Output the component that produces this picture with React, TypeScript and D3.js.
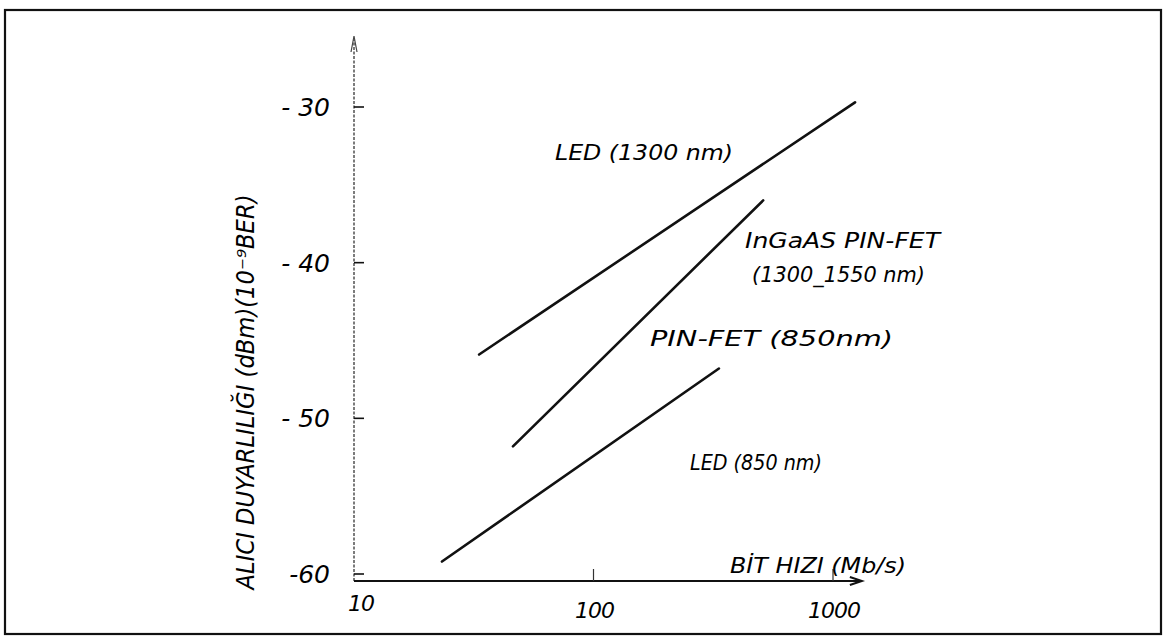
import { useEffect, useRef } from "react";
import * as d3 from "d3";

// bit rate (Mb/s) vs receiver sensitivity (dBm)
const led1300 = [
  { rate: 33.3, sens: -45.9 },
  { rate: 1236, sens: -29.7 },
];
const ingaas = [
  { rate: 46.1, sens: -51.8 },
  { rate: 511, sens: -36.0 },
];
const led850 = [
  { rate: 23.3, sens: -59.2 },
  { rate: 334, sens: -46.8 },
];
const xTicks = [10, 100, 1000];
const yTicks = [-30, -40, -50, -60];

const W = 1168;
const H = 643;
const FONT = "'DejaVu Sans', sans-serif";

export default function App() {
  const ref = useRef<SVGSVGElement>(null);

  useEffect(() => {
    const svg = d3.select(ref.current);
    svg.selectAll("*").remove();

    const x = d3.scaleLog().domain([10, 1000]).range([354, 833]);
    const y = d3.scaleLinear().domain([-60, -30]).range([574, 107]);
    const axisY = 581;

    // hand-drawn frame
    svg
      .append("rect")
      .attr("x", 5)
      .attr("y", 10)
      .attr("width", 1156)
      .attr("height", 624)
      .attr("fill", "none")
      .attr("stroke", "#111")
      .attr("stroke-width", 2.2);

    // y axis (dotted look) with arrow
    svg
      .append("line")
      .attr("x1", x(10))
      .attr("x2", x(10))
      .attr("y1", axisY)
      .attr("y2", 40)
      .attr("stroke", "#444")
      .attr("stroke-width", 1.4)
      .attr("stroke-dasharray", "3,1.5");
    svg
      .append("path")
      .attr("d", `M${x(10) - 3},52 L${x(10)},36 L${x(10) + 3},52`)
      .attr("fill", "none")
      .attr("stroke", "#444")
      .attr("stroke-width", 1.2);

    // x axis with arrow
    const xEnd = x(1320);
    svg
      .append("line")
      .attr("x1", x(10))
      .attr("x2", xEnd)
      .attr("y1", axisY)
      .attr("y2", axisY)
      .attr("stroke", "#111")
      .attr("stroke-width", 2.2);
    svg
      .append("path")
      .attr("d", `M${xEnd - 12},${axisY - 4} L${xEnd},${axisY} L${xEnd - 12},${axisY + 4}`)
      .attr("fill", "none")
      .attr("stroke", "#111")
      .attr("stroke-width", 2);

    // y ticks
    svg
      .selectAll(".yt")
      .data(yTicks)
      .enter()
      .append("line")
      .attr("x1", x(10))
      .attr("x2", x(10) + 10)
      .attr("y1", (d) => y(d))
      .attr("y2", (d) => y(d))
      .attr("stroke", "#111")
      .attr("stroke-width", 1.6);
    svg
      .selectAll(".yl")
      .data(yTicks)
      .enter()
      .append("text")
      .attr("x", 330)
      .attr("y", (d) => y(d) + 9)
      .attr("text-anchor", "end")
      .attr("font-family", FONT)
      .attr("font-style", "italic")
      .attr("font-weight", 300)
      .attr("font-size", 25)
      .text((d) => (d === -60 ? "-" : "- ") + Math.abs(d));

    // x ticks
    svg
      .selectAll(".xt")
      .data(xTicks.slice(1))
      .enter()
      .append("line")
      .attr("x1", (d) => x(d))
      .attr("x2", (d) => x(d))
      .attr("y1", axisY)
      .attr("y2", axisY - 12)
      .attr("stroke", "#333")
      .attr("stroke-width", 1.2);
    svg
      .selectAll(".xl")
      .data(xTicks)
      .enter()
      .append("text")
      .attr("x", (d) => (d === 10 ? x(d) + 7 : x(d) + 1))
      .attr("y", (d) => (d === 10 ? 611 : 618))
      .attr("text-anchor", "middle")
      .attr("font-family", FONT)
      .attr("font-style", "italic")
      .attr("font-weight", 300)
      .attr("font-size", 22)
      .attr("letter-spacing", -1)
      .text((d) => String(d));

    // sensitivity lines
    const line = d3
      .line<{ rate: number; sens: number }>()
      .x((d) => x(d.rate))
      .y((d) => y(d.sens));
    [led1300, ingaas, led850].forEach((s) => {
      svg
        .append("path")
        .attr("d", line(s))
        .attr("fill", "none")
        .attr("stroke", "#111")
        .attr("stroke-width", 2.6)
        .attr("stroke-linecap", "round");
    });

    // labels
    const labels = [
      { t: "LED (1300 nm)", x: 555, y: 160, w: 178 },
      { t: "InGaAS  PIN-FET", x: 745, y: 248, w: 195 },
      { t: "(1300_1550 nm)", x: 752, y: 282, w: 173 },
      { t: "PIN-FET (850nm)", x: 650, y: 346, w: 243 },
      { t: "LED (850 nm)", x: 690, y: 470, w: 132 },
      { t: "BİT HIZI (Mb/s)", x: 730, y: 573, w: 176 },
    ];
    svg
      .selectAll(".lab")
      .data(labels)
      .enter()
      .append("text")
      .attr("x", (d) => d.x)
      .attr("y", (d) => d.y)
      .attr("font-family", FONT)
      .attr("font-style", "italic")
      .attr("font-weight", 300)
      .attr("font-size", 22)
      .attr("textLength", (d) => d.w)
      .attr("lengthAdjust", "spacingAndGlyphs")
      .text((d) => d.t);

    // y axis title
    svg
      .append("text")
      .attr("transform", "translate(254,392) rotate(-90)")
      .attr("text-anchor", "middle")
      .attr("font-family", FONT)
      .attr("font-style", "italic")
      .attr("font-weight", 300)
      .attr("font-size", 24)
      .attr("textLength", 395)
      .attr("lengthAdjust", "spacingAndGlyphs")
      .text("ALICI  DUYARLILIĞI (dBm)(10⁻⁹BER)");
  }, []);

  return (
    <svg
      ref={ref}
      width={W}
      height={H}
      style={{ position: "absolute", left: 0, top: 0, background: "#fff" }}
    />
  );
}
